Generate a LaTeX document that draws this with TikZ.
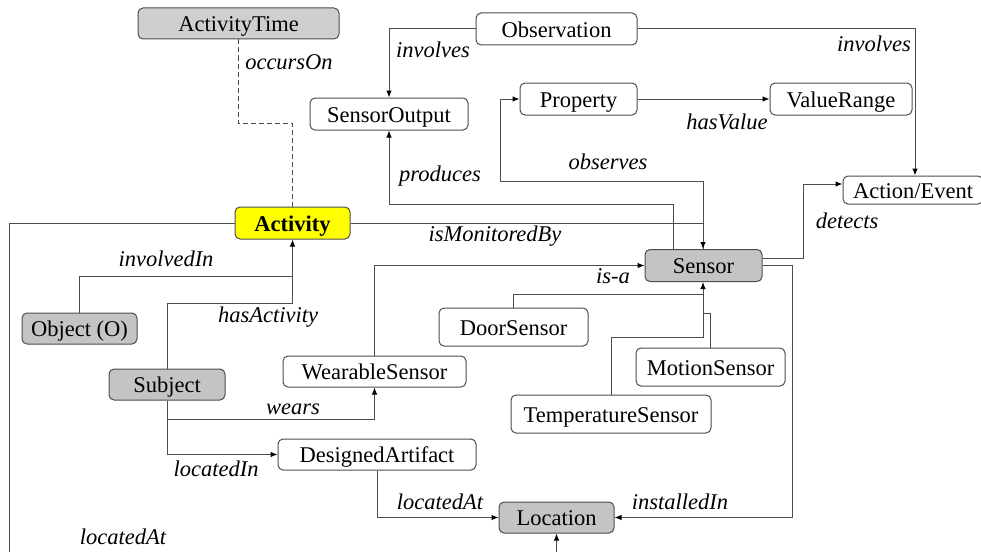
\documentclass[tikz,border=0pt]{standalone}
\usepackage{fontspec}
\setmainfont{Liberation Serif}
\usetikzlibrary{arrows.meta}
\definecolor{linegray}{HTML}{4D4D4D}
\definecolor{boxgray}{HTML}{C4C4C4}
\definecolor{lightgray}{HTML}{CFCFCF}
\definecolor{hiyellow}{HTML}{FFFF00}
\begin{document}
\begin{tikzpicture}[x=1pt,y=-1pt,
  every node/.style={font=\fontsize{22.5}{26}\selectfont},
  concept/.style={draw=linegray, line width=1pt, rounded corners=5pt, fill=white,
    inner sep=0pt, align=center, text height=16.5pt, text depth=0pt},
  classbox/.style={concept, fill=boxgray},
  rel/.style={font=\fontsize{22.5}{26}\selectfont\itshape, inner sep=0pt},
  link/.style={draw=linegray, line width=1pt},
  arrowlink/.style={link, -{Latex[length=7pt,width=5.5pt,color=black]}},
  dashlink/.style={link, dashed, dash pattern=on 5pt off 3pt}
]
\useasboundingbox (0,0) rectangle (981,551);
\clip (0,0) rectangle (981,551);

% concepts
\node[concept, fill=lightgray, minimum width=201, minimum height=31] (atime) at (238.5,23.5) {ActivityTime};
\node[concept, minimum width=158, minimum height=32] (sout) at (389,114) {SensorOutput};
\node[concept, fill=hiyellow, minimum width=115, minimum height=32] (act) at (292.5,223) {\bfseries Activity};
\node[concept, minimum width=161, minimum height=32] (obs) at (556.5,29) {Observation};
\node[concept, minimum width=117, minimum height=32] (prop) at (578.5,99) {Property};
\node[concept, minimum width=142, minimum height=32] (vr) at (841,99) {ValueRange};
\node[concept, minimum width=140, minimum height=28] (ae) at (913,190) {Action/Event};
\node[classbox, minimum width=117, minimum height=32] (sensor) at (703.5,265.5) {Sensor};
\node[classbox, minimum width=115, minimum height=31] (obj) at (79.5,328.5) {Object (O)};
\node[classbox, minimum width=116, minimum height=31] (subj) at (167,384.5) {Subject};
\node[concept, minimum width=183, minimum height=31] (wear) at (374.5,371.5) {WearableSensor};
\node[concept, minimum width=198, minimum height=31] (da) at (377,454.5) {DesignedArtifact};
\node[concept, minimum width=149, minimum height=38] (door) at (513.5,327) {DoorSensor};
\node[concept, minimum width=149, minimum height=38] (motion) at (710.5,367) {MotionSensor};
\node[concept, minimum width=200, minimum height=38] (temp) at (611,414) {TemperatureSensor};
\node[classbox, minimum width=115, minimum height=31] (loc) at (556.5,517.5) {Location};

% bend points
\coordinate (timebend) at (238.5,123);
\coordinate (obsbend) at (500,181);
\coordinate (prodbend) at (389,204);
\coordinate (monbend) at (703,223);
\coordinate (invbend) at (292.5,276);
\coordinate (hasbend) at (292.5,303);
\coordinate (wearbend) at (374.5,419);
\coordinate (isabend) at (703,294);
\coordinate (motbend) at (703,313);
\coordinate (tempbend) at (703,337);
\coordinate (detbend) at (803,184);
\coordinate (instbend) at (792,517.5);
\coordinate (lowbend) at (9,600);

% connectors
\draw[dashlink] (atime.south) -- (timebend) -| (act.north);
\draw[arrowlink] (obs.west) -| (sout.north);
\draw[arrowlink] (obs.east) -| ([xshift=2pt]ae.north);
\draw[arrowlink] (prop.east) -- (vr.west);
\draw[arrowlink] ([xshift=-0.5pt]sensor.north) |- (obsbend) |- (prop.west);
\draw[arrowlink] (act.east) -| (monbend) -- ([xshift=-0.5pt]sensor.north);
\draw[arrowlink] ([xshift=-30.5pt]sensor.north) |- (prodbend) -- (sout.south);
\draw[arrowlink] (act.west) -| (lowbend) -| (loc.south);
\draw[arrowlink] (obj.north) |- (invbend) -- (act.south);
\draw[link] (subj.north) |- (hasbend) -- (invbend);
\draw[arrowlink] (subj.south) |- (wearbend) -- (wear.south);
\draw[arrowlink] (subj.south) |- (da.west);
\draw[arrowlink] (da.south) |- (loc.west);
\draw[arrowlink] (wear.north) |- (sensor.west);
\draw[arrowlink] (door.north) |- (isabend) -- ([xshift=-0.5pt]sensor.south);
\draw[link] (temp.north) |- (tempbend) -- (isabend);
\draw[link] (motion.north) |- (motbend);
\draw[arrowlink] ([yshift=7.5pt]sensor.east) -| (detbend) -- (detbend -| ae.west);
\draw[arrowlink] (sensor.east) -| (instbend) -- (loc.east);

% relation labels
\node[rel] (lOccurs) at (289,62) {occursOn};
\node[rel] (lInvolvesA) at (433,50) {involves};
\node[rel] (lInvolvesB) at (874,44) {involves};
\node[rel] (lHasValue) at (727,122) {hasValue};
\node[rel] (lObserves) at (608,162) {observes};
\node[rel] (lProduces) at (440,176) {produces};
\node[rel] (lMonitored) at (495,236) {isMonitoredBy};
\node[rel] (lDetects) at (847,221) {detects};
\node[rel] (lInvolvedIn) at (166,259) {involvedIn};
\node[rel] (lIsa) at (613,276) {is-a};
\node[rel] (lHasAct) at (268,317) {hasActivity};
\node[rel] (lWears) at (293,409) {wears};
\node[rel] (lLocIn) at (216,469) {locatedIn};
\node[rel] (lLocAtA) at (440,502) {locatedAt};
\node[rel] (lInstalled) at (680,502) {installedIn};
\node[rel] (lLocAtB) at (123,537) {locatedAt};
\end{tikzpicture}
\end{document}
